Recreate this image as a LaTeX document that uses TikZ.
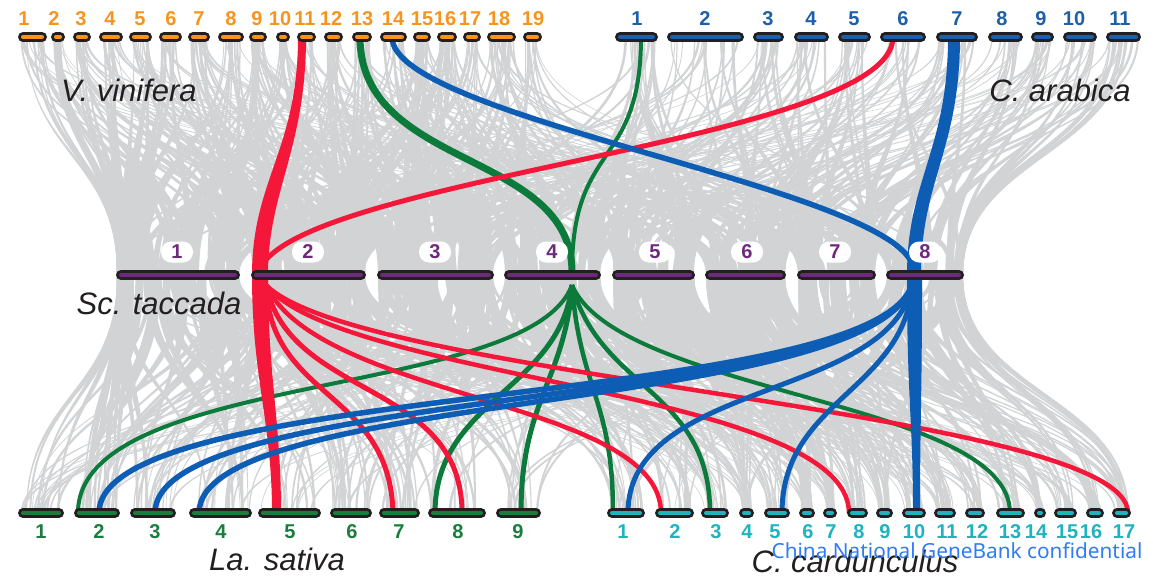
\documentclass[tikz,border=0pt]{standalone}
\usepackage{fontspec}
\setmainfont{Liberation Sans}
\newfontfamily\wmfont{Noto Sans}
\definecolor{orng}{HTML}{F7941D}
\definecolor{cablue}{HTML}{1D5FA8}
\definecolor{purp}{HTML}{6D2A7A}
\definecolor{lsgreen}{HTML}{1A7D3E}
\definecolor{cccyan}{HTML}{20B2BE}
\definecolor{hred}{HTML}{F5173A}
\definecolor{hgreen}{HTML}{0B7A3B}
\definecolor{hblue}{HTML}{0E5DB5}
\definecolor{ribgray}{HTML}{D1D3D4}
\definecolor{outl}{HTML}{231F20}
\definecolor{wmblue}{HTML}{2F7CF6}
\tikzset{
  barout/.style={line width=10pt,line cap=round,draw=outl},
  barin/.style={line width=4pt,line cap=round,draw=#1},
  lab/.style={font=\bfseries\fontsize{20}{20}\selectfont,inner sep=0pt},
  midlab/.style={lab,text=purp,fill=white,rounded corners=10pt,minimum width=32pt,minimum height=21pt},
  spc/.style={font=\itshape\fontsize{31}{31}\selectfont,text=outl,inner sep=0pt},
  rib/.style={fill=ribgray},
  hl/.style={line width=#1,line cap=butt},
}
\def\tA{{18,51,73,99,129,159,188,218,249,276,297,324,352,380,413,437,463,487,523,615,667,753,794,838,880,936,988,1031,1063,1106}}
\def\tB{{47,65,91,123,152,182,210,244,267,290,316,343,372,407,431,457,481,516,542,658,744,784,829,871,926,978,1023,1054,1097,1141}}
\def\mA{{116,251,377,504,612,705,797,886}}
\def\mB{{240,366,494,601,695,786,876,964}}
\def\bA{{18,74,130,189,258,330,379,428,496,607,655,701,739,764,799,823,847,876,902,934,965,996,1034,1054,1086,1112}}
\def\bB{{64,120,176,252,321,372,420,486,541,645,694,729,754,790,815,837,868,893,926,956,985,1025,1046,1077,1104,1131}}
\begin{document}
\begin{tikzpicture}[x=1pt,y=-1pt]
\useasboundingbox (0,0) rectangle (1153,576);
% ---------- gray synteny ribbons: top genomes -> Sc. taccada
\pgfmathsetseed{4242}
\foreach \i in {1,...,500}{
  \pgfmathsetmacro\k{int(random(0,29))}
  \pgfmathsetmacro\ts{\tA[\k]}
  \pgfmathsetmacro\te{\tB[\k]}
  \pgfmathsetmacro\wt{0.6+2*rnd}
  \pgfmathsetmacro\xt{\ts+2+rnd*(\te-\ts-4-\wt)}
  \pgfmathsetmacro\tg{rnd<0.6 ? 116+(\xt-18)/1123*848+(rnd-0.5)*300 : 116+rnd*848}
  \pgfmathsetmacro\j{int((\tg>246)+(\tg>372)+(\tg>499)+(\tg>606)+(\tg>700)+(\tg>791)+(\tg>881))}
  \pgfmathsetmacro\ms{\mA[\j]}
  \pgfmathsetmacro\me{\mB[\j]}
  \pgfmathsetmacro\wm{3+6.5*rnd}
  \pgfmathsetmacro\xm{min(max(\tg,\ms+1),\me-1-\wm)}
  \pgfmathsetmacro\xtb{\xt+\wt}
  \pgfmathsetmacro\xmb{\xm+\wm}
  \fill[rib] (\xt,37) .. controls (\xt,156) and (\xm,156) .. (\xm,275) -- (\xmb,275) .. controls (\xmb,156) and (\xtb,156) .. (\xtb,37) -- cycle;
}
% ---------- gray synteny ribbons: Sc. taccada -> bottom genomes
\foreach \i in {1,...,500}{
  \pgfmathsetmacro\k{int(random(0,25))}
  \pgfmathsetmacro\bs{\bA[\k]}
  \pgfmathsetmacro\be{\bB[\k]}
  \pgfmathsetmacro\wb{0.6+2*rnd}
  \pgfmathsetmacro\xb{\bs+2+rnd*(\be-\bs-4-\wb)}
  \pgfmathsetmacro\tg{rnd<0.6 ? 116+(\xb-18)/1113*760+(rnd-0.5)*300 : 116+rnd*848}
  \pgfmathsetmacro\j{int((\tg>246)+(\tg>372)+(\tg>499)+(\tg>606)+(\tg>700)+(\tg>791)+(\tg>881))}
  \pgfmathsetmacro\ms{\mA[\j]}
  \pgfmathsetmacro\me{\mB[\j]}
  \pgfmathsetmacro\wm{3+6.5*rnd}
  \pgfmathsetmacro\xm{min(max(\tg,\ms+1),\me-1-\wm)}
  \pgfmathsetmacro\xbb{\xb+\wb}
  \pgfmathsetmacro\xmb{\xm+\wm}
  \fill[rib] (\xm,275) .. controls (\xm,394) and (\xb,394) .. (\xb,513) -- (\xbb,513) .. controls (\xbb,394) and (\xmb,394) .. (\xmb,275) -- cycle;
}
% ---------- named end points
\coordinate (vv13) at (360,37);
\coordinate (vv14) at (392,37);
\coordinate (ca1) at (641,37);
\coordinate (ca6) at (893,37);
\coordinate (s2top) at (262,265);
\coordinate (s2bot) at (266,285);
\coordinate (s4top) at (572,272);
\coordinate (s4bot) at (572,285);
\coordinate (s8top) at (914,272);
\coordinate (s8bot) at (912,285);
\coordinate (ls2g) at (78,513);
\coordinate (ls2b) at (99,513);
\coordinate (ls3) at (155,513);
\coordinate (ls4) at (199,513);
\coordinate (ls7) at (393,513);
\coordinate (ls8g) at (435,513);
\coordinate (ls8r) at (462,513);
\coordinate (ls9) at (521,513);
\coordinate (cc1g) at (613,513);
\coordinate (cc1b) at (628,513);
\coordinate (cc2) at (661,513);
\coordinate (cc3) at (710,513);
\coordinate (cc5) at (782,513);
\coordinate (cc8) at (849,513);
\coordinate (cc13) at (1010,513);
\coordinate (cc17) at (1128,513);
% ---------- green (Sc. taccada 4)
\draw[hgreen,hl=7pt] (vv13) .. controls (360,170) and (572,150) .. (s4top);
\draw[hgreen,hl=4pt] (ca1) .. controls (641,170) and (572,140) .. (s4top);
\draw[hgreen,hl=4pt] (s4bot) .. controls (530,400) and (78,370) .. (ls2g);
\draw[hgreen,hl=5pt] (s4bot) .. controls (560,390) and (435,400) .. (ls8g);
\draw[hgreen,hl=5pt] (s4bot) .. controls (565,380) and (521,400) .. (ls9);
\draw[hgreen,hl=4.5pt] (s4bot) .. controls (580,390) and (613,400) .. (cc1g);
\draw[hgreen,hl=4.5pt] (s4bot) .. controls (600,390) and (710,390) .. (cc3);
\draw[hgreen,hl=4pt] (s4bot) .. controls (620,395) and (1010,400) .. (cc13);
% ---------- red (Sc. taccada 2)
\fill[hred] (298,37) .. controls (298,150) and (252,180) .. (252,275)
  .. controls (252,380) and (272,420) .. (272,513) -- (281,513)
  .. controls (281,420) and (268,380) .. (268,275)
  .. controls (268,190) and (306,150) .. (306,37) -- cycle;
\draw[hred,hl=5pt] (s2top) .. controls (320,175) and (893,140) .. (ca6);
\draw[hred,hl=5pt] (s2bot) .. controls (270,400) and (390,390) .. (ls7);
\draw[hred,hl=5pt] (s2bot) .. controls (290,400) and (462,380) .. (ls8r);
\draw[hred,hl=4.5pt] (s2bot) .. controls (320,400) and (661,400) .. (cc2);
\draw[hred,hl=4.5pt] (s2bot) .. controls (340,380) and (849,390) .. (cc8);
\draw[hred,hl=4.5pt] (s2bot) .. controls (360,380) and (1128,410) .. (cc17);
% ---------- blue (Sc. taccada 8)
\draw[hblue,hl=5.5pt] (vv14) .. controls (392,120) and (914,190) .. (s8top);
\fill[hblue] (948,37) .. controls (948,150) and (907,180) .. (907,275)
  -- (921,275) .. controls (921,180) and (960,150) .. (960,37) -- cycle;
\draw[hblue,hl=5.5pt] (s8bot) .. controls (870,410) and (99,380) .. (ls2b);
\draw[hblue,hl=5.5pt] (s8bot) .. controls (870,412) and (155,385) .. (ls3);
\draw[hblue,hl=5.5pt] (s8bot) .. controls (870,414) and (199,390) .. (ls4);
\draw[hblue,hl=5pt] (s8bot) .. controls (890,400) and (628,380) .. (cc1b);
\draw[hblue,hl=5pt] (s8bot) .. controls (905,390) and (782,400) .. (cc5);
\fill[hblue] (907,280) .. controls (907,400) and (913,420) .. (913,513)
  -- (920,513) .. controls (920,420) and (922,400) .. (922,280) -- cycle;
% ---------- chromosomes and labels
\foreach \s/\e/\n/\lx in {18/47/1/24,51/65/2/54,73/91/3/81,99/123/4/110,129/152/5/140,159/182/6/171,188/210/7/199,218/244/8/231,249/267/9/257,276/290/10/280,297/316/11/305,324/343/12/331,352/372/13/362,380/407/14/393,413/431/15/422,437/457/16/445,463/481/17/470,487/516/18/499,523/542/19/533}{
  \draw[barout] ({\s+5},37) -- ({\e-5},37);
  \draw[barin=orng] ({\s+5},37) -- ({\e-5},37);
  \node[lab,text=orng] (vvl\n) at (\lx,19) {\n};
}
\foreach \s/\e/\n/\lx in {615/658/1/637,667/744/2/705,753/784/3/768,794/829/4/811,838/871/5/854,880/926/6/903,936/978/7/957,988/1023/8/1002,1031/1054/9/1041,1063/1097/10/1074,1106/1141/11/1120}{
  \draw[barout] ({\s+5},37) -- ({\e-5},37);
  \draw[barin=cablue] ({\s+5},37) -- ({\e-5},37);
  \node[lab,text=cablue] (cal\n) at (\lx,19) {\n};
}
\foreach \s/\e/\n/\lx in {116/240/1/177,251/366/2/308,377/494/3/435,504/601/4/552,612/695/5/655,705/786/6/747,797/876/7/835,886/964/8/925}{
  \draw[barout] ({\s+5},275) -- ({\e-5},275);
  \draw[barin=purp] ({\s+5},275) -- ({\e-5},275);
  \node[midlab] (stl\n) at (\lx,252) {\n};
}
\foreach \s/\e/\n/\lx in {18/64/1/41,74/120/2/99,130/176/3/155,189/252/4/221,258/321/5/290,330/372/6/352,379/420/7/399,428/486/8/458,496/541/9/518}{
  \draw[barout] ({\s+5},513) -- ({\e-5},513);
  \draw[barin=lsgreen] ({\s+5},513) -- ({\e-5},513);
  \node[lab,text=lsgreen] (lsl\n) at (\lx,532) {\n};
}
\foreach \s/\e/\n/\lx in {607/645/1/623,655/694/2/675,701/729/3/716,739/754/4/747,764/790/5/775,799/815/6/808,823/837/7/831,847/868/8/859,876/893/9/885,902/926/10/914,934/956/11/947,965/985/12/977,996/1025/13/1010,1034/1046/14/1036,1054/1077/15/1067,1086/1104/16/1091,1112/1131/17/1124}{
  \draw[barout] ({\s+5},513) -- ({\e-5},513);
  \draw[barin=cccyan] ({\s+5},513) -- ({\e-5},513);
  \node[lab,text=cccyan] (ccl\n) at (\lx,532) {\n};
}
% ---------- species names
\node[spc] (vv) at (129,90) {V. vinifera};
\node[spc] (ca) at (1060,90) {C. arabica};
\node[spc] (sc) at (159,303) {Sc. taccada};
\node[spc] (ls) at (277,559) {La. sativa};
\node[spc] (cc) at (855,561) {C. cardunculus};
\node[font=\wmfont\fontsize{20.8}{21}\selectfont,text=wmblue,inner sep=0pt] (wm) at (957,551) {China National GeneBank confidential};
\end{tikzpicture}
\end{document}
